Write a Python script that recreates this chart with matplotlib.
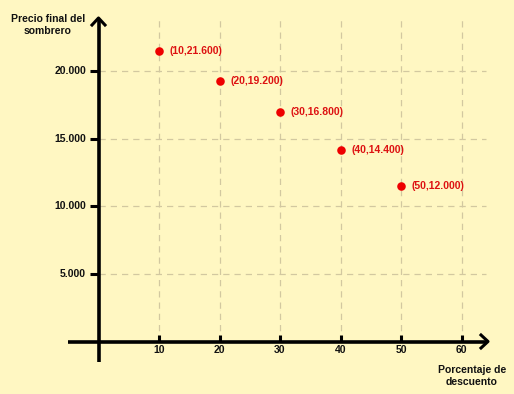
import matplotlib
matplotlib.use("Agg")
import matplotlib.pyplot as plt

x_vals = [10, 20, 30, 40, 50]
# point positions as drawn in the picture
y_vals = [21450, 19250, 17000, 14200, 11500]
point_labels = ["(10,21.600)", "(20,19.200)", "(30,16.800)", "(40,14.400)", "(50,12.000)"]
x_ticks = [10, 20, 30, 40, 50, 60]
y_ticks = [5000, 10000, 15000, 20000]
y_tick_labels = ["5.000", "10.000", "15.000", "20.000"]
x_title = "Porcentaje de\ndescuento"
y_title = "Precio final del\nsombrero"

W, H = 514, 394
bg = "#FFF7C2"
fig = plt.figure(figsize=(W / 100, H / 100), dpi=100, facecolor=bg)
ax = fig.add_axes([0, 0, 1, 1])
ax.set_facecolor(bg)
ax.axis("off")

# pixel mapping
px0, sx = 98.5, 6.05
py0, sy = 341.5, 67.6 / 5000
ax.set_xlim(-px0 / sx, (W - px0) / sx)
ax.set_ylim(-(H - py0) / sy, py0 / sy)

def ux(px):
    return (px - px0) / sx

def uy(py):
    return (py0 - py) / sy

grid_kw = dict(color="#D2C8A0", lw=0.9, dashes=(5, 4), zorder=1)
for xv in x_ticks:
    ax.plot([xv, xv], [0, uy(16)], **grid_kw)
for yv in y_ticks:
    ax.plot([0, ux(486)], [yv, yv], **grid_kw)

# axes
ax.plot([ux(68), ux(486)], [0, 0], color="black", lw=2.6, zorder=3, solid_capstyle="butt")
ax.plot([0, 0], [uy(362), uy(20)], color="black", lw=2.6, zorder=3, solid_capstyle="butt")
# arrow heads
ax.plot([ux(481), ux(488), ux(481)], [uy(335), uy(341.5), uy(348)], color="black", lw=2.2, zorder=3)
ax.plot([ux(92), ux(98.5), ux(105)], [uy(25), uy(18), uy(25)], color="black", lw=2.2, zorder=3)

font = dict(fontsize=7.5, fontweight="bold", family="Liberation Sans")

# ticks
for xv in x_ticks:
    ax.plot([xv, xv], [0, uy(335)], color="black", lw=2.2, zorder=3, solid_capstyle="butt")
    ax.text(xv, uy(345), str(xv), ha="center", va="top", color="#111111", **font)
for yv, lab in zip(y_ticks, y_tick_labels):
    ax.plot([ux(90), 0], [yv, yv], color="black", lw=2.2, zorder=3, solid_capstyle="butt")
    ax.text(ux(86), yv, lab, ha="right", va="center", color="#111111", **font)

ax.text(ux(48), uy(25), y_title, ha="center", va="center", color="#111111",
        linespacing=1.35, **font)
ax.text(ux(472), uy(376), x_title, ha="center", va="center", color="#111111",
        linespacing=1.35, **font)

ax.scatter(x_vals, y_vals, s=38, color="#EE0000", zorder=4, linewidths=0)
for xv, yv, lab in zip(x_vals, y_vals, point_labels):
    ax.text(xv + 1.8, yv, lab, ha="left", va="center", color="#DD1111", zorder=5, **font)

fig.savefig("out.png", dpi=100, facecolor=bg)
